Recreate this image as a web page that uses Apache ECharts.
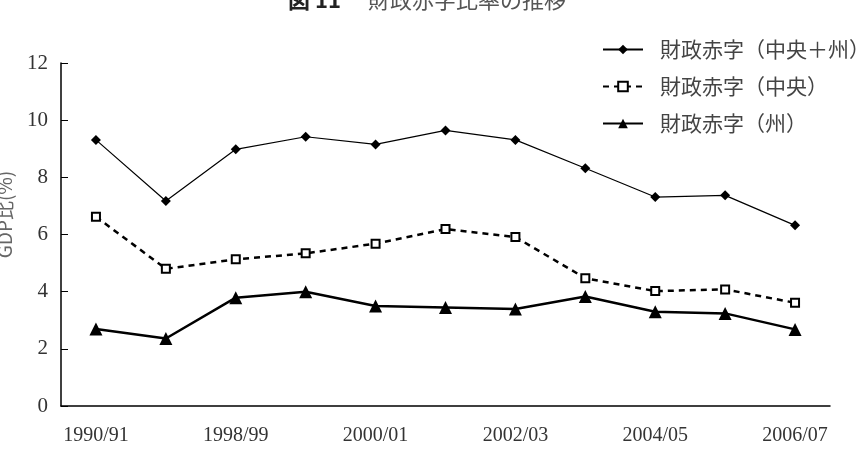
<!DOCTYPE html>
<html>
<head>
<meta charset="utf-8">
<script src="https://cdn.jsdelivr.net/npm/echarts@6/dist/echarts.min.js"></script>
<style>
	html, body { margin: 0; padding: 0; background: #fff; }
	#container { width: 863px; height: 459px; }
</style>
</head>
<body>
<div id="container"></div>
<script>
	var categorias = ['1990/91', '1997/98', '1998/99', '1999/00', '2000/01', '2001/02', '2002/03', '2003/04', '2004/05', '2005/06', '2006/07'];
	var seriesNombres = ['財政赤字（中央＋州）', '財政赤字（中央）', '財政赤字（州）'];
	var total = [9.31, 7.17, 8.98, 9.42, 9.15, 9.64, 9.31, 8.32, 7.31, 7.37, 6.32];
	var central = [6.62, 4.80, 5.13, 5.34, 5.68, 6.19, 5.91, 4.47, 4.02, 4.08, 3.61];
	var estatal = [2.69, 2.36, 3.79, 4.00, 3.50, 3.45, 3.39, 3.83, 3.30, 3.24, 2.68];
	var yTicks = { min: 0, max: 12, interval: 2 };

	var serifFont = '"Liberation Serif", "DejaVu Serif", serif';
	var cjkFont = '"Noto Sans CJK JP", sans-serif';

	var dom = document.getElementById("container");
	var myChart = echarts.init(dom);

	var option = {
		animation: false,
		title: {
			text: '{b|図 11}　 財政赤字比率の推移',
			left: 283,
			top: -16,
			textStyle: {
				fontFamily: cjkFont,
				fontSize: 22,
				fontWeight: 'normal',
				color: '#555',
				rich: {
					b: { fontFamily: cjkFont, fontSize: 22, fontWeight: 'bold', color: '#222' }
				}
			}
		},
		legend: {
			data: seriesNombres,
			orient: 'vertical',
			left: 597,
			top: 34,
			itemWidth: 40,
			itemHeight: 12,
			itemGap: 16,
			textStyle: {
				fontFamily: cjkFont,
				fontSize: 21,
				color: '#444',
				padding: [0, 0, 0, 12]
			}
		},
		grid: {
			left: 61,
			right: 33,
			top: 63,
			bottom: 53,
			containLabel: false,
			outerBoundsMode: 'none'
		},
		xAxis: {
			type: 'category',
			boundaryGap: true,
			data: categorias,
			axisLine: { lineStyle: { color: '#000', width: 1.5 } },
			axisTick: { inside: true, length: 6, lineStyle: { color: '#000' } },
			axisLabel: {
				interval: 1,
				margin: 20,
				fontFamily: serifFont,
				fontSize: 20,
				color: '#333'
			},
			splitLine: { show: false }
		},
		yAxis: {
			type: 'value',
			min: yTicks.min,
			max: yTicks.max,
			interval: yTicks.interval,
			name: 'GDP比(%)',
			nameLocation: 'middle',
			nameGap: 47,
			nameRotate: 90,
			nameTextStyle: {
				fontFamily: cjkFont,
				fontSize: 19,
				color: '#666',
				padding: [0, 0, 0, 40]
			},
			axisLine: { show: true, lineStyle: { color: '#000', width: 1.5 } },
			axisTick: { show: true, inside: true, length: 7, lineStyle: { color: '#000' } },
			axisLabel: {
				margin: 13,
				fontFamily: serifFont,
				fontSize: 21,
				color: '#333'
			},
			splitLine: { show: false }
		},
		series: [
			{
				name: seriesNombres[0],
				type: 'line',
				data: total,
				symbol: 'diamond',
				symbolSize: 10,
				itemStyle: { color: '#000' },
				lineStyle: { color: '#000', width: 1.2 }
			},
			{
				name: seriesNombres[1],
				type: 'line',
				data: central,
				symbol: 'rect',
				symbolSize: 8,
				itemStyle: { color: '#fff', borderColor: '#000', borderWidth: 2 },
				lineStyle: { color: '#000', width: 2.5, type: [6, 5] }
			},
			{
				name: seriesNombres[2],
				type: 'line',
				data: estatal,
				symbol: 'triangle',
				symbolSize: 13,
				itemStyle: { color: '#000' },
				lineStyle: { color: '#000', width: 2.5 }
			}
		]
	};

	if (option && typeof option === "object") {
		myChart.setOption(option, true);
	}
</script>
</body>
</html>
